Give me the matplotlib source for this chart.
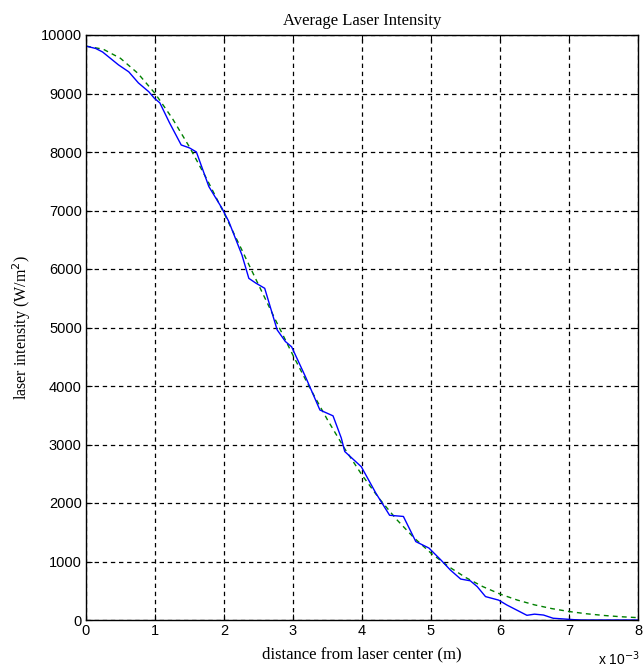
import matplotlib
matplotlib.use("Agg")
import matplotlib.pyplot as plt
from matplotlib.ticker import FuncFormatter, MultipleLocator

# measured profile (x in metres, intensity in W/m^2)
x_meas = [0.0, 0.14, 0.24, 0.47, 0.62, 0.76, 0.91, 0.99, 1.07, 1.21, 1.38, 1.5,
          1.6, 1.78, 1.97, 2.07, 2.26, 2.36, 2.46, 2.59, 2.77, 2.89, 2.98, 3.18,
          3.25, 3.39, 3.58, 3.7, 3.75, 3.99, 4.2, 4.4, 4.6, 4.78, 4.97, 5.14,
          5.28, 5.43, 5.57, 5.67, 5.79, 5.98, 6.1, 6.39, 6.5, 6.63, 6.77, 7.08,
          7.2, 8.0]
y_meas = [9810, 9770, 9710, 9490, 9370, 9180, 9030, 8920, 8840, 8500, 8120, 8070,
          8000, 7410, 7040, 6810, 6240, 5840, 5760, 5670, 4960, 4760, 4670, 4160,
          3970, 3590, 3490, 3110, 2880, 2620, 2170, 1790, 1770, 1340, 1230, 1030,
          855, 700, 670, 570, 400, 340, 256, 80, 100, 85, 30, 5,
          0, 0]
x_meas = [v * 1e-3 for v in x_meas]

# fitted profile (green dashed)
x_fit = [0.0, 0.25, 0.5, 0.75, 1.0, 1.25, 1.5, 1.75, 2.0, 2.25, 2.5, 2.75, 3.0,
         3.25, 3.5, 3.75, 4.0, 4.25, 4.5, 4.75, 5.0, 5.25, 5.5, 5.75, 6.0, 6.25,
         6.5, 6.75, 7.0, 7.25, 7.5, 7.75, 8.0]
y_fit = [9810, 9757, 9601, 9347, 9002, 8577, 8084, 7539, 6955, 6347, 5731, 5119,
         4524, 3955, 3421, 2927, 2478, 2075, 1720, 1409, 1143, 917, 728, 571, 444,
         341, 259, 195, 145, 107, 78, 56, 40]
x_fit = [v * 1e-3 for v in x_fit]

serif = "Liberation Serif"
sans = "Liberation Sans"

fig = plt.figure(figsize=(6.44, 6.67), dpi=100)
ax = fig.add_axes([86 / 644, 47 / 667, 552 / 644, 585 / 667])

ax.plot(x_fit, y_fit, color=(0, 0.5, 0), linestyle=(0, (3.5, 3)), linewidth=1.0)
ax.plot(x_meas, y_meas, color=(0, 0, 1), linewidth=1.0)

ax.set_xlim(0, 8e-3)
ax.set_ylim(0, 10000)
ax.xaxis.set_major_locator(MultipleLocator(1e-3))
ax.yaxis.set_major_locator(MultipleLocator(1000))
ax.xaxis.set_major_formatter(FuncFormatter(lambda v, p: f"{v * 1e3:.0f}"))

ax.grid(True, color="black", linestyle=(0, (3.5, 3)), linewidth=0.9)
ax.tick_params(direction="in", top=True, right=True, length=4, pad=3,
               labelsize=10.5)
for lab in ax.get_xticklabels() + ax.get_yticklabels():
    lab.set_fontfamily(sans)
for s in ax.spines.values():
    s.set_linewidth(1.0)

ax.set_title("Average Laser Intensity", fontfamily=serif, fontsize=12, pad=7)
ax.set_xlabel("distance from laser center (m)", fontfamily=serif, fontsize=12)
ax.set_ylabel("laser intensity (W/m$^2$)", fontfamily=serif, fontsize=11.5)
ax.xaxis.set_label_coords(0.5, -0.058)
ax.yaxis.set_label_coords(-0.117, 0.5)
ax.xaxis.label.set_va("center")
ax.yaxis.label.set_va("center")

fig.text(598 / 644, 1 - 659 / 667, "x 10$^{-3}$", fontfamily=sans, fontsize=10,
         ha="left", va="center")

fig.savefig("out.png", dpi=100)
